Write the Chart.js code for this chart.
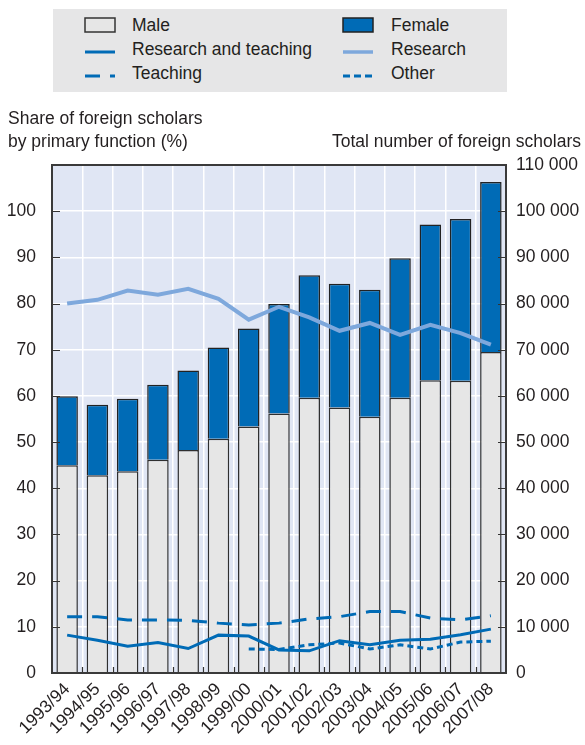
<!DOCTYPE html>
<html>
<head>
<meta charset="utf-8">
<script src="https://cdn.jsdelivr.net/npm/chart.js@4"></script>
<style>
  html, body { margin: 0; padding: 0; background: #ffffff; }
  body { width: 585px; height: 745px; position: relative; overflow: hidden;
         font-family: 'Liberation Sans', Arial, sans-serif; color: #231f20; }
  #wrap { position: absolute; left: 0; top: 0; width: 585px; height: 745px; }
  .legend { position: absolute; left: 53px; top: 9px; width: 454px; height: 83px; background: #e6e6e7; }
  .item { position: absolute; height: 24px; line-height: 24px; font-size: 17.5px; white-space: nowrap; }
  .item svg { position: absolute; top: 0; }
  .item span { position: absolute; }
  .title { position: absolute; font-size: 17.5px; line-height: 23px; white-space: nowrap; }
</style>
</head>
<body>
<div id="wrap"><canvas id="chart" width="585" height="745"></canvas></div>

<div class="legend">
  <div class="item" style="left:31px;top:4px;width:260px;">
    <svg width="32" height="24"><rect x="1" y="5" width="30" height="14" fill="#e6e6e6" stroke="#333" stroke-width="1.5"/></svg>
    <span style="left:48px;">Male</span>
  </div>
  <div class="item" style="left:289px;top:4px;width:160px;">
    <svg width="32" height="24"><rect x="1" y="5" width="30" height="14" fill="#006bb6" stroke="#222" stroke-width="1.5"/></svg>
    <span style="left:49px;">Female</span>
  </div>
  <div class="item" style="left:31px;top:28px;width:260px;">
    <svg width="32" height="24"><line x1="1" y1="15" x2="31" y2="15" stroke="#006bb6" stroke-width="3"/></svg>
    <span style="left:48px;">Research and teaching</span>
  </div>
  <div class="item" style="left:289px;top:28px;width:160px;">
    <svg width="32" height="24"><line x1="1" y1="15" x2="31" y2="15" stroke="#7ea8dc" stroke-width="3.5"/></svg>
    <span style="left:49px;">Research</span>
  </div>
  <div class="item" style="left:31px;top:52px;width:260px;">
    <svg width="32" height="24"><line x1="1" y1="15" x2="31" y2="15" stroke="#006bb6" stroke-width="3" stroke-dasharray="15 10"/></svg>
    <span style="left:48px;">Teaching</span>
  </div>
  <div class="item" style="left:289px;top:52px;width:160px;">
    <svg width="32" height="24"><line x1="1" y1="15" x2="31" y2="15" stroke="#006bb6" stroke-width="3" stroke-dasharray="7 4"/></svg>
    <span style="left:49px;">Other</span>
  </div>
</div>

<div class="title" style="left:8px;top:107px;">Share of foreign scholars</div>
<div class="title" style="left:8px;top:130px;">by primary function (%)</div>
<div class="title" style="right:4px;top:130px;text-align:right;">Total number of foreign scholars</div>

<script>
// Academic years
const years = ['1993/94', '1994/95', '1995/96', '1996/97', '1997/98', '1998/99', '1999/00',
               '2000/01', '2001/02', '2002/03', '2003/04', '2004/05', '2005/06', '2006/07', '2007/08'];

// Number of foreign scholars by sex (right axis)
const maleScholars   = [45000, 42800, 43700, 46200, 48300, 50700, 53400, 56200, 59600, 57500, 55500, 59600, 63400, 63300, 69500];
const femaleScholars = [14900, 15300, 15700, 16200, 17200, 19800, 21200, 23700, 26500, 26800, 27500, 30200, 33700, 35000, 36800];

// Share of foreign scholars by primary function, % (left axis)
const research             = [80.0, 80.8, 82.8, 81.9, 83.2, 81.0, 76.5, 79.3, 77.0, 74.1, 75.8, 73.2, 75.4, 73.6, 71.1];
const researchAndTeaching  = [8.2, 7.1, 5.8, 6.6, 5.3, 8.2, 8.0, 5.0, 4.8, 7.0, 6.1, 7.1, 7.3, 8.3, 9.5];
const teaching             = [12.2, 12.2, 11.5, 11.5, 11.4, 10.8, 10.4, 10.8, 11.7, 12.2, 13.3, 13.3, 11.9, 11.5, 12.4];
const other                = [null, null, null, null, null, null, 5.2, 5.1, 6.1, 6.5, 5.2, 6.1, 5.2, 6.7, 6.9];

// Tick values
const shareTicks = [0, 10, 20, 30, 40, 50, 60, 70, 80, 90, 100];
const countTicks = [0, 10000, 20000, 30000, 40000, 50000, 60000, 70000, 80000, 90000, 100000, 110000];

const FONT = "'Liberation Sans', Arial, sans-serif";
const INK = '#231f20';
const BLUE = '#006bb6';

function spaced(n) {
  return String(n).replace(/\B(?=(\d{3})+(?!\d))/g, ' ');
}

// Lavender plot background and dark frame with inward ticks
const frame = {
  id: 'frame',
  beforeDraw(chart) {
    const { ctx, chartArea: a } = chart;
    ctx.save();
    ctx.fillStyle = '#e0e6f4';
    ctx.fillRect(a.left, a.top, a.right - a.left, a.bottom - a.top);
    ctx.restore();
  },
  afterDatasetsDraw(chart) {
    const { ctx, chartArea: a, scales } = chart;
    ctx.save();
    ctx.strokeStyle = '#333';
    ctx.lineWidth = 1.2;
    ctx.beginPath();
    shareTicks.forEach(v => {
      const y = Math.round(scales.y.getPixelForValue(v)) + 0.5;
      ctx.moveTo(a.left, y); ctx.lineTo(a.left + 8, y);
    });
    countTicks.forEach(v => {
      const y = Math.round(scales.y1.getPixelForValue(v)) + 0.5;
      ctx.moveTo(a.right, y); ctx.lineTo(a.right - 8, y);
    });
    const n = years.length;
    const step = (a.right - a.left) / n;
    for (let i = 1; i < n; i++) {
      const x = Math.round(a.left + i * step) + 0.5;
      ctx.moveTo(x, a.bottom); ctx.lineTo(x, a.bottom - 6);
    }
    ctx.stroke();
    ctx.lineWidth = 2;
    ctx.strokeStyle = '#3a3a3a';
    ctx.strokeRect(a.left, a.top, a.right - a.left, a.bottom - a.top);
    ctx.restore();
  }
};

new Chart(document.getElementById('chart'), {
  data: {
    labels: years,
    datasets: [
      { type: 'line', label: 'Research', data: research, yAxisID: 'y', order: 0,
        borderColor: '#7ea8dc', borderWidth: 4, pointRadius: 0, tension: 0, fill: false },
      { type: 'line', label: 'Research and teaching', data: researchAndTeaching, yAxisID: 'y', order: 0,
        borderColor: BLUE, borderWidth: 3, pointRadius: 0, tension: 0, fill: false },
      { type: 'line', label: 'Teaching', data: teaching, yAxisID: 'y', order: 0,
        borderColor: BLUE, borderWidth: 3, borderDash: [15, 10], pointRadius: 0, tension: 0, fill: false },
      { type: 'line', label: 'Other', data: other, yAxisID: 'y', order: 0,
        borderColor: BLUE, borderWidth: 3, borderDash: [6, 4], pointRadius: 0, tension: 0, fill: false, spanGaps: false },
      { type: 'bar', label: 'Male', data: maleScholars, yAxisID: 'y1', stack: 's', order: 1,
        backgroundColor: '#e6e6e6', borderColor: '#2f2f2f', borderWidth: 1.5,
        barPercentage: 0.71, categoryPercentage: 1 },
      { type: 'bar', label: 'Female', data: femaleScholars, yAxisID: 'y1', stack: 's', order: 1,
        backgroundColor: BLUE, borderColor: '#222', borderWidth: 1.5,
        barPercentage: 0.71, categoryPercentage: 1 }
    ]
  },
  options: {
    responsive: false,
    animation: false,
    devicePixelRatio: 1,
    layout: { padding: { top: 165, left: 0, right: 0, bottom: 0 } },
    plugins: { legend: { display: false }, tooltip: { enabled: false } },
    scales: {
      x: {
        stacked: true,
        offset: true,
        afterFit(s) { s.height = 72; },
        grid: { offset: true, color: '#ffffff', lineWidth: 1.5, drawTicks: false },
        border: { display: false },
        ticks: { autoSkip: false, maxRotation: 45, minRotation: 45, padding: 6,
                 color: INK, font: { family: FONT, size: 17.5 } }
      },
      y: {
        position: 'left',
        min: 0, max: 110,
        afterFit(s) { s.width = 52; },
        afterBuildTicks(s) { s.ticks = shareTicks.concat([110]).map(v => ({ value: v })); },
        grid: { color: '#ffffff', lineWidth: 1.5, drawTicks: false },
        border: { display: false },
        ticks: { padding: 16, color: INK, font: { family: FONT, size: 17.5 },
                 callback: v => (v <= 100 ? String(v) : '') }
      },
      y1: {
        position: 'right',
        stacked: true,
        min: 0, max: 110000,
        afterFit(s) { s.width = 79; },
        afterBuildTicks(s) { s.ticks = countTicks.map(v => ({ value: v })); },
        grid: { display: false, drawTicks: false },
        border: { display: false },
        ticks: { padding: 10, color: INK, font: { family: FONT, size: 17.5 },
                 callback: v => spaced(v) }
      }
    }
  },
  plugins: [frame]
});
</script>
</body>
</html>
